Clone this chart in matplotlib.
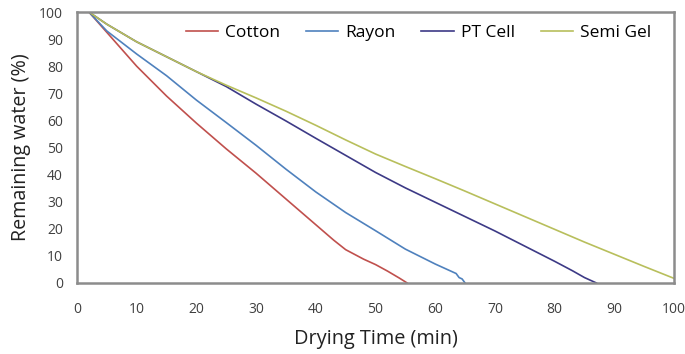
import matplotlib
matplotlib.use("Agg")
import matplotlib.pyplot as plt

# Data
cotton_t = [0, 2, 5, 10, 15, 20, 25, 30, 35, 40, 43, 45, 48, 50, 52, 54, 55.3]
cotton_w = [100, 100, 92.5, 80, 69, 59, 49.5, 40.5, 31, 21.5, 15.8, 12.3, 8.8, 6.8, 4.4, 1.8, 0]

rayon_t = [0, 2, 5, 10, 15, 20, 25, 30, 35, 40, 45, 50, 55, 60, 62, 63.5, 64, 64.5, 65]
rayon_w = [100, 100, 93, 84.5, 76.5, 67.5, 59.2, 50.8, 42, 33.6, 26, 19.3, 12.5, 7, 5, 3.5, 2, 1.5, 0]

ptcell_t = [0, 2, 5, 10, 15, 20, 25, 30, 35, 40, 45, 50, 55, 60, 65, 70, 75, 80, 83, 85, 87]
ptcell_w = [100, 100, 95.5, 89, 83.5, 78, 72.5, 66, 59.8, 53.4, 47.1, 40.8, 35.1, 29.8, 24.5, 19.2, 13.6, 8.0, 4.5, 2, 0]

semigel_t = [0, 2, 5, 10, 15, 20, 25, 30, 35, 40, 45, 50, 55, 60, 65, 70, 75, 80, 85, 90, 95, 100]
semigel_w = [100, 100, 95.5, 89, 83.5, 78, 73, 68.3, 63.4, 58.2, 52.8, 47.6, 43, 38.5, 33.9, 29.2, 24.5, 19.8, 15.1, 10.6, 6.1, 1.7]

series_names = ["Cotton", "Rayon", "PT Cell", "Semi Gel"]
x_ticks = list(range(0, 101, 10))
y_ticks = list(range(0, 101, 10))

plt.rcParams['font.family'] = ['Open Sans', 'DejaVu Sans']

fig = plt.figure(figsize=(6.85, 3.54), dpi=100)
ax = fig.add_axes([0.1124, 0.2006, 0.8716, 0.7654])

colors = ["#c0504d", "#4f81bd", "#3d3a86", "#b8bf5c"]
data = [(cotton_t, cotton_w), (rayon_t, rayon_w), (ptcell_t, ptcell_w), (semigel_t, semigel_w)]
for (t, w), name, c in zip(data, series_names, colors):
    ax.plot(t, w, color=c, lw=1.2, label=name)

ax.set_xlim(0, 100)
ax.set_ylim(0, 100)
ax.set_xticks(x_ticks)
ax.set_yticks(y_ticks)
ax.tick_params(axis='both', length=0, labelsize=10, colors="#404040")
ax.tick_params(axis='x', pad=14)
ax.tick_params(axis='y', pad=10)
for s in ax.spines.values():
    s.set_color("#8c8c8c")
    s.set_linewidth(1.8)

ax.set_xlabel("Drying Time (min)", fontsize=14.3, color="#222222", labelpad=8)
ax.set_ylabel("Remaining water (%)", fontsize=14.2, color="#222222", labelpad=6)

ax.legend(loc="center", bbox_to_anchor=(0.611, 0.907), bbox_transform=fig.transFigure,
          ncol=4, frameon=False, fontsize=12.5, handlelength=1.85, handletextpad=0.4,
          columnspacing=1.5)

fig.savefig("out.png", dpi=100)
